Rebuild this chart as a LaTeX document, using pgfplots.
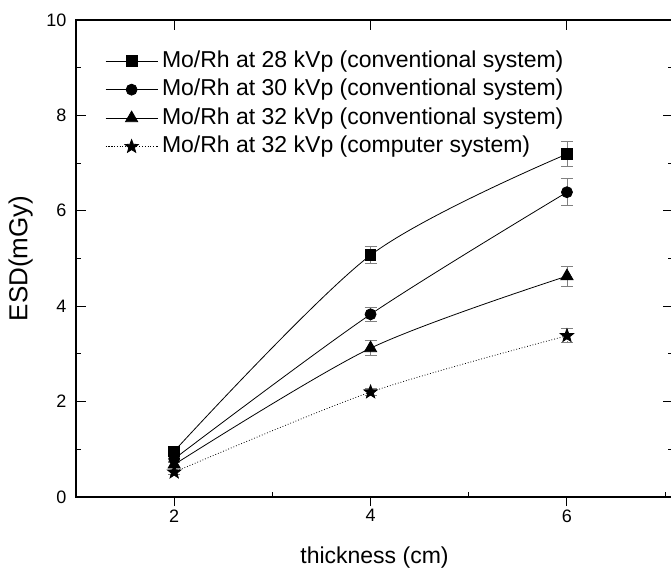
\documentclass[border=0pt]{standalone}
\usepackage{fontspec}
\setmainfont{Liberation Sans}
\usepackage{pgfplots}
\pgfplotsset{compat=1.18}

% filled five-point star
\pgfdeclareplotmark{fstar}{%
  \pgfpathmoveto{\pgfpointpolar{90}{\pgfplotmarksize}}%
  \pgfpathlineto{\pgfpointpolar{126}{0.42\pgfplotmarksize}}%
  \pgfpathlineto{\pgfpointpolar{162}{\pgfplotmarksize}}%
  \pgfpathlineto{\pgfpointpolar{198}{0.42\pgfplotmarksize}}%
  \pgfpathlineto{\pgfpointpolar{234}{\pgfplotmarksize}}%
  \pgfpathlineto{\pgfpointpolar{270}{0.42\pgfplotmarksize}}%
  \pgfpathlineto{\pgfpointpolar{306}{\pgfplotmarksize}}%
  \pgfpathlineto{\pgfpointpolar{342}{0.42\pgfplotmarksize}}%
  \pgfpathlineto{\pgfpointpolar{18}{\pgfplotmarksize}}%
  \pgfpathlineto{\pgfpointpolar{54}{0.42\pgfplotmarksize}}%
  \pgfpathclose
  \pgfusepathqfillstroke
}

\newcommand{\tickfont}{\fontsize{18}{21}\selectfont}

\pgfplotsset{
  base/.style={
    scale only axis, width=597pt, height=477pt,
    xmin=1, xmax=7.08, ymin=0, ymax=10,
    at={(0,0)}, anchor=south west,
    axis line style={line width=1.2pt},
    every tick/.style={black, line width=1pt},
    xticklabel={\tickfont\pgfmathprintnumber[assume math mode=true]{\tick}},
    yticklabel={\tickfont\pgfmathprintnumber[assume math mode=true]{\tick}},
  },
  errs/.style={
    error bars/.cd, y dir=both, y explicit,
    error bar style={gray, line width=0.9pt},
    error mark options={rotate=90, mark size=6pt, gray, line width=0.9pt},
  },
}

\begin{document}
\begin{tikzpicture}
\begin{axis}[base,
  tick align=inside, major tick length=10pt, minor tick length=5pt,
  ytick={0,2,...,10}, minor ytick={1,3,...,9},
  yticklabel style={xshift=-6pt},
  xtick={2,4,6}, xtick pos=right, xticklabels={},
  ylabel={ESD(mGy)},
  every axis y label/.style={at={([xshift=-48.5pt]axis description cs:0,0.5)},
    anchor=base, rotate=90, font=\fontsize{26}{30}\selectfont},
  legend style={at={(0.0486,0.944)}, anchor=north west, draw=none, fill=none,
    inner sep=0pt, row sep=0pt, font=\fontsize{23}{27}\selectfont,
    nodes={inner ysep=3.25pt, inner xsep=4pt, text height=17pt, text depth=5pt},
    cells={anchor=west}},
  legend image code/.code={\draw[mark repeat=2,mark phase=2,#1]
    plot coordinates {(0pt,0pt)(26pt,0pt)(52pt,0pt)};},
]
\addplot[black, line width=0.8pt, smooth, mark=square*, mark size=5.3pt,
  mark options={solid}, errs]
coordinates {(2,0.96) +- (0,0.05) (4,5.07) +- (0,0.18) (6,7.19) +- (0,0.27)};
\addlegendentry{Mo/Rh at 28 kVp (conventional system)}
\addplot[black, line width=0.8pt, smooth, mark=*, mark size=5.5pt,
  mark options={solid}, errs]
coordinates {(2,0.80) +- (0,0.05) (4,3.83) +- (0,0.15) (6,6.39) +- (0,0.28)};
\addlegendentry{Mo/Rh at 30 kVp (conventional system)}
\addplot[black, line width=0.8pt, smooth, mark=triangle*, mark size=7pt,
  mark options={solid}, errs]
coordinates {(2,0.68) +- (0,0.05) (4,3.12) +- (0,0.16) (6,4.63) +- (0,0.21)};
\addlegendentry{Mo/Rh at 32 kVp (conventional system)}
\addplot[black, line width=0.8pt, dotted, smooth, mark=fstar, mark size=7pt,
  mark options={solid}, errs]
coordinates {(2,0.52) +- (0,0.04) (4,2.20) +- (0,0.07) (6,3.38) +- (0,0.15)};
\addlegendentry{Mo/Rh at 32 kVp (computer system)}
\end{axis}

\begin{axis}[base,
  hide y axis, axis x line*=bottom,
  tick align=outside, major tick length=9pt,
  xtick={2,4,6},
  extra x ticks={3,5,7}, extra x tick labels={},
  extra x tick style={tick align=inside, major tick length=5pt},
  xlabel={thickness (cm)},
  every axis x label/.style={at={([yshift=-66pt]axis description cs:0.5,0)},
    anchor=base, font=\fontsize{23}{27}\selectfont},
]
\end{axis}
\pgfresetboundingbox
\path (-76pt,-71pt) rectangle (595pt,497pt);
\end{tikzpicture}
\end{document}
